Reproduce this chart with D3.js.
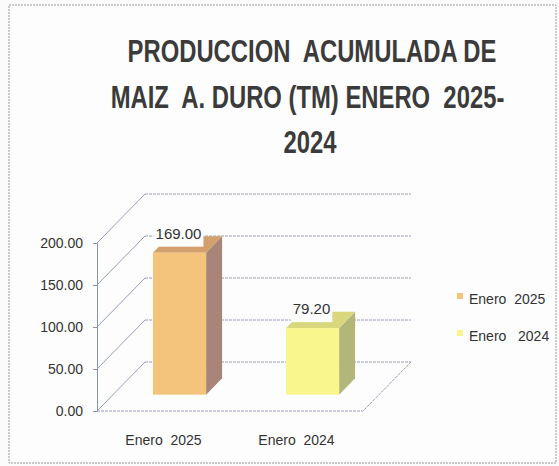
<!DOCTYPE html>
<html>
<head>
<meta charset="utf-8">
<script src="https://cdn.jsdelivr.net/npm/d3@7"></script>
<style>
  body { margin: 0; background: #fbfbfb; }
  text { font-family: "Liberation Sans", Arial, sans-serif; fill: #333; white-space: pre; }
</style>
</head>
<body>
<script>
// chart data
var titleLines = ["PRODUCCION  ACUMULADA DE", "MAIZ  A. DURO (TM) ENERO  2025-", "2024"];
var categories = ["Enero  2025", "Enero  2024"];
var values = [169.00, 79.20];
var yTicks = [0, 50, 100, 150, 200];
var legendLabels = ["Enero  2025", "Enero   2024"];

// face colours for each bar: front, side, top
var faceColors = [
    { front: "#f5c47c", side: "#a98579", top: "#d39f6c" },
    { front: "#f8f68c", side: "#b2b779", top: "#d9d77c" }
];

var W = 559, H = 466;
var DEPTH_X = 48, DEPTH_Y = -49;   // depth of the 3d box
var BAR_T0 = 1 / 3, BAR_T1 = 2 / 3; // bars sit in the middle third of the depth

var svg = d3.select("body")
    .append("svg")
    .attr("width", W)
    .attr("height", H);

// frame of the scanned chart
svg.append("rect")
    .attr("x", 9).attr("y", 5)
    .attr("width", 547).attr("height", 458)
    .attr("fill", "#fdfdfd")
    .attr("stroke", "#9a9a9a")
    .attr("stroke-dasharray", "2,1")
    .attr("stroke-width", 1);

// title: the scan uses a narrow font, so the lines are squeezed sideways
var titleX = [312, 307.5, 310];
var titleSqueeze = 0.745;
svg.append("g").selectAll("g")
    .data(titleLines)
    .enter()
    .append("g")
    .attr("transform", (d, i) => "translate(" + titleX[i] + "," + (62 + i * 45.5) + ") scale(" + titleSqueeze + ",1)")
    .append("text")
    .attr("text-anchor", "middle")
    .attr("font-size", 32)
    .attr("font-weight", "bold")
    .style("fill", "#3b3b3b")
    .text(d => d);

// scales on the front plane
var x = d3.scaleBand()
    .domain(categories)
    .range([97, 363])
    .paddingInner(0.6)
    .paddingOuter(0.3);

var y = d3.scaleLinear()
    .domain([0, 200])
    .range([411, 243]);

var gridColor = "#8c91ae";

// back wall gridlines
svg.append("g").selectAll("line")
    .data(yTicks)
    .enter()
    .append("line")
    .attr("x1", 97 + DEPTH_X)
    .attr("x2", 363 + DEPTH_X)
    .attr("y1", d => y(d) + DEPTH_Y)
    .attr("y2", d => y(d) + DEPTH_Y)
    .attr("stroke", gridColor)
    .attr("stroke-width", 0.9)
    .attr("stroke-dasharray", "3,1");

// side wall gridlines (diagonals)
svg.append("g").selectAll("line")
    .data(yTicks)
    .enter()
    .append("line")
    .attr("x1", 97)
    .attr("x2", 97 + DEPTH_X)
    .attr("y1", d => y(d))
    .attr("y2", d => y(d) + DEPTH_Y)
    .attr("stroke", gridColor)
    .attr("stroke-width", 0.9);

// floor edges
svg.append("path")
    .attr("d", "M" + x.range()[0] + "," + y(0) +
               "L" + x.range()[1] + "," + y(0) +
               "L" + (x.range()[1] + DEPTH_X) + "," + (y(0) + DEPTH_Y))
    .attr("fill", "none")
    .attr("stroke", gridColor)
    .attr("stroke-width", 0.9)
    .attr("stroke-dasharray", "3,1");

// y axis
var yAxis = svg.append("g")
    .attr("transform", "translate(97,0)")
    .call(d3.axisLeft(y).tickValues(yTicks).tickFormat(d3.format(".2f")).tickSize(4).tickPadding(10));
yAxis.select(".domain").attr("stroke", gridColor);
yAxis.selectAll(".tick line").attr("stroke", gridColor);
yAxis.selectAll("text")
    .attr("font-size", 14)
    .attr("dy", "0.35em")
    .style("font-family", "'Liberation Sans', sans-serif")
    .style("fill", "#333");

// bars as 3d boxes
var bars = svg.append("g").selectAll("g")
    .data(values)
    .enter()
    .append("g");

function pt(px, py) { return px + "," + py; }

bars.each(function (v, i) {
    var g = d3.select(this);
    var c = faceColors[i];
    var fx0 = x(categories[i]) + DEPTH_X * BAR_T0;
    var fx1 = fx0 + x.bandwidth();
    var fyTop = y(v) + DEPTH_Y * BAR_T0;
    var fyBot = y(0) + DEPTH_Y * BAR_T0;
    var dx = DEPTH_X * (BAR_T1 - BAR_T0);
    var dy = DEPTH_Y * (BAR_T1 - BAR_T0);

    // side face
    g.append("polygon")
        .attr("points", [pt(fx1, fyTop), pt(fx1 + dx, fyTop + dy), pt(fx1 + dx, fyBot + dy), pt(fx1, fyBot)].join(" "))
        .attr("fill", c.side);
    // top face
    g.append("polygon")
        .attr("points", [pt(fx0, fyTop), pt(fx0 + dx, fyTop + dy), pt(fx1 + dx, fyTop + dy), pt(fx1, fyTop)].join(" "))
        .attr("fill", c.top);
    // front face
    g.append("rect")
        .attr("x", fx0)
        .attr("y", fyTop)
        .attr("width", fx1 - fx0)
        .attr("height", fyBot - fyTop)
        .attr("fill", c.front);

    // data label with white box
    var lx = fx0 + x.bandwidth() / 2 - 1;
    var ly = fyTop - 14;
    var lbl = g.append("text")
        .attr("x", lx)
        .attr("y", ly)
        .attr("text-anchor", "middle")
        .attr("font-size", 15)
        .text(d3.format(".2f")(v));
    var bb = lbl.node().getBBox();
    g.insert("rect", "text")
        .attr("x", bb.x - 2)
        .attr("y", bb.y + 1)
        .attr("width", bb.width + 4)
        .attr("height", bb.height + 4)
        .attr("fill", "#fdfdfd");
});

// category labels
svg.append("g").selectAll("text")
    .data(categories)
    .enter()
    .append("text")
    .attr("x", d => x(d) + x.bandwidth() / 2)
    .attr("y", 445)
    .attr("text-anchor", "middle")
    .attr("font-size", 14)
    .text(d => d);

// legend
var legend = svg.append("g").selectAll("g")
    .data(legendLabels)
    .enter()
    .append("g")
    .attr("transform", (d, i) => "translate(457," + (293 + i * 37) + ")");

legend.append("rect")
    .attr("width", 6)
    .attr("height", 6)
    .attr("fill", (d, i) => faceColors[i].front);

legend.append("text")
    .attr("x", 12)
    .attr("y", 11)
    .attr("font-size", 14)
    .text(d => d);
</script>
</body>
</html>
